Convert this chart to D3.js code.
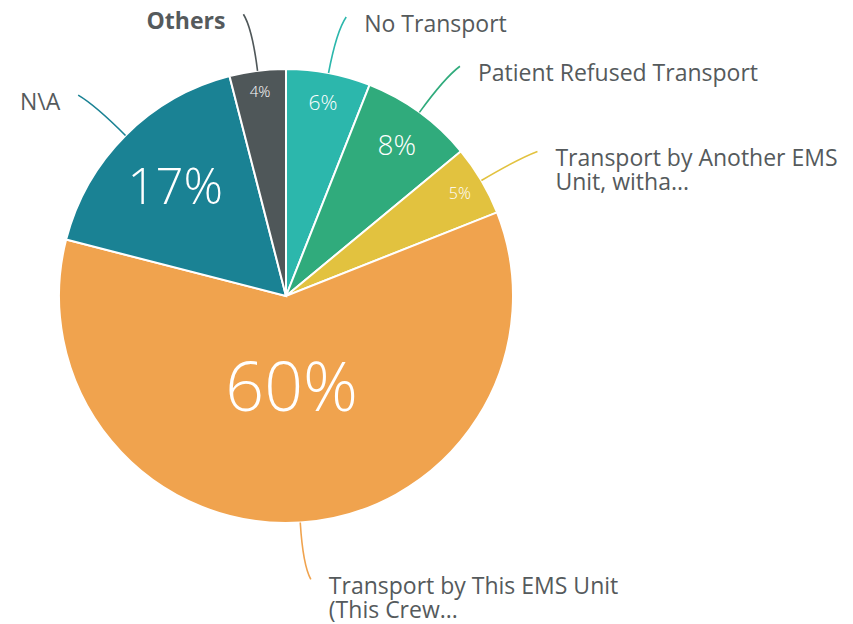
<!DOCTYPE html>
<html>
<head>
<meta charset="utf-8">
<script src="https://cdn.jsdelivr.net/npm/d3@7"></script>
<style>
  html, body { margin: 0; padding: 0; background: #ffffff; }
  svg { display: block; }
</style>
</head>
<body>
<svg id="chart" width="853" height="624"></svg>
<script>
// Transport disposition shares, clockwise from 12 o'clock
const categories = [
  "No Transport",
  "Patient Refused Transport",
  "Transport by Another EMS\nUnit, witha...",
  "Transport by This EMS Unit\n(This Crew...",
  "N\\A",
  "Others"
];
const values = [6, 8, 5, 60, 17, 4];
const colors = ["#2cb7ac", "#30ab7c", "#e2c23f", "#f0a34e", "#1a8294", "#4f5759"];
const boldLabels = ["Others"];

const width = 853, height = 624;
const cx = 286, cy = 296, radius = 227;

const svg = d3.select("#chart");
const g = svg.append("g").attr("transform", `translate(${cx},${cy})`);

const data = categories.map((c, i) => ({ name: c, value: values[i], color: colors[i] }));

const pie = d3.pie().sort(null).value(d => d.value).startAngle(0).endAngle(2 * Math.PI);
const arcs = pie(data);
const arc = d3.arc().innerRadius(0).outerRadius(radius);

// slices
g.selectAll("path.slice")
  .data(arcs)
  .join("path")
  .attr("class", "slice")
  .attr("d", arc)
  .attr("fill", d => d.data.color)
  .attr("stroke", "#ffffff")
  .attr("stroke-width", 2);

// percentage labels inside slices: bigger slices get larger text placed nearer the centre
const labelRadius = d3.scaleLinear().domain([4, 8, 17, 60]).range([0.91, 0.83, 0.69, 0.39]).clamp(true);
const labelSize = d3.scaleLinear().domain([4, 5, 6, 8, 17, 60]).range([15, 16, 21, 28, 49, 68]).clamp(true);

const polar = (r, a) => [r * Math.sin(a), -r * Math.cos(a)];
const mid = d => (d.startAngle + d.endAngle) / 2;

g.selectAll("text.pct")
  .data(arcs)
  .join("text")
  .attr("class", "pct")
  .attr("x", d => polar(radius * labelRadius(d.data.value), mid(d))[0])
  .attr("y", d => polar(radius * labelRadius(d.data.value), mid(d))[1])
  .attr("text-anchor", "middle")
  .attr("dominant-baseline", "central")
  .attr("font-family", "'Open Sans', sans-serif")
  .attr("font-weight", 300)
  .attr("font-size", d => labelSize(d.data.value))
  .attr("fill", "#ffffff")
  .text(d => d.data.value + "%");

// curved leader lines out to the category names
const outerR = 284;
const leaders = arcs.map(d => {
  const a = mid(d);
  const side = Math.sin(a) >= 0 ? 1 : -1;
  const p0 = polar(radius, a);
  const c = polar(radius + 0.75 * (outerR - radius), a);
  const e = polar(outerR, a);
  const p2 = [e[0] + side * 7, e[1]];
  return { d, side, p0, c, p2 };
});

g.selectAll("path.leader")
  .data(leaders)
  .join("path")
  .attr("class", "leader")
  .attr("d", l => {
    const p = d3.path();
    p.moveTo(l.p0[0], l.p0[1]);
    p.quadraticCurveTo(l.c[0], l.c[1], l.p2[0], l.p2[1]);
    return p.toString();
  })
  .attr("fill", "none")
  .attr("stroke", l => l.d.data.color)
  .attr("stroke-width", 1.6);

const lineHeight = 24;
const names = g.selectAll("text.name")
  .data(leaders)
  .join("text")
  .attr("class", "name")
  .attr("x", l => l.p2[0] + l.side * 18)
  .attr("y", l => l.p2[1] + 6)
  .attr("text-anchor", l => l.side > 0 ? "start" : "end")
  .attr("dominant-baseline", "central")
  .attr("font-family", "'Open Sans', sans-serif")
  .attr("font-size", 23)
  .attr("font-weight", l => boldLabels.includes(l.d.data.name) ? 700 : 400)
  .attr("fill", "#555a5c");

names.each(function (l) {
  const lines = l.d.data.name.split("\n");
  d3.select(this).selectAll("tspan")
    .data(lines)
    .join("tspan")
    .attr("x", l.p2[0] + l.side * 18)
    .attr("dy", (t, i) => i === 0 ? 0 : lineHeight)
    .text(t => t);
});
</script>
</body>
</html>
